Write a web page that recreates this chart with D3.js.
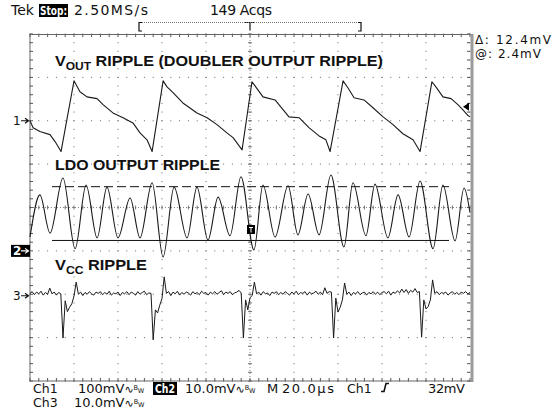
<!DOCTYPE html>
<html>
<head>
<meta charset="utf-8">
<script src="https://cdn.jsdelivr.net/npm/d3@7"></script>
<style>
  body { margin: 0; background: #fff; }
  svg { display: block; }
  text { font-family: "DejaVu Sans", sans-serif; fill: #111; }
  .title { font-family: "Liberation Sans", Arial, sans-serif; font-weight: bold; }
</style>
</head>
<body>
<div id="scope"></div>
<script>
// ---- data (time in µs, values in mV) ----
// Ch1: V_OUT ripple (100mV/div)
const ch1Time = [-100, -98.6, -95.5, -90.9, -88.6, -85.9, -80, -77.3, -74.1, -69.5, -66.8, -62.3, -57.7, -53.2, -50, -46.8, -44.5,
  -39.5, -37.7, -35, -30.5, -24.1, -19.5, -15, -10.5, -7.7, -3.6,
  0.9, 5.9, 11.4, 17.7, 22.3, 26.8, 31.4, 34.5, 36.4,
  42.3, 44.5, 47.3, 51.8, 55.9, 60.5, 65, 69.5, 74.1, 77.3,
  82.7, 84.5, 87.7, 91.4, 94.5, 96.8, 99.1, 100];
const ch1Values = [0, -16, -25, -32, -48, -71, 92, 67, 55, 51, 37, 18, 7, -5, -28, -44, -71,
  92, 78, 65, 41, 18, 7, -9, -28, -39, -67,
  90, 55, 48, 9, 7, -16, -35, -44, -71,
  92, 76, 53, 48, 30, 9, -9, -30, -44, -71,
  90, 78, 55, 51, 37, 25, 12, 9];

// Ch2: LDO output ripple (10mV/div), peaks and troughs
const ch2Time = [-100, -95.5, -90.9, -85, -79.5, -74.5, -69.5, -65, -60, -54.5, -50, -44.5, -39.5, -34.5, -28.6, -24.1, -19.1,
  -14.5, -9.1, -4.1, 1.8, 5.9, 11.4, 17.3, 21.8, 26.4, 31.4, 36.8, 42.7, 46.8, 52.7, 56.8, 62.7, 67.3, 72.3,
  77.3, 83.2, 87.7, 93.2, 97.3, 100];
const ch2Values = [3.2, 12.9, 4.1, 16.8, 0.5, 15.2, 3.0, 14.7, 3.0, 12.2, 3.0, 15.7, -1.4, 14.7, 3.0, 14.7, 2.5,
  12.4, 3.5, 17.1, 0.2, 15.2, 3.2, 15.0, 3.7, 13.1, 3.7, 17.5, 0.9, 15.7, 3.5, 15.4, 3.0, 12.9, 3.2,
  16.1, 0.5, 15.2, 2.3, 14.5, 8.8];

// Ch3: V_CC ripple (10mV/div), one sample per µs from -100µs to +100µs
const ch3Start = -100;
const ch3Values = [
  0.2, 0.6, -0.1, 0.5, 0.1, 0.7, -0.2, 0.4, 0.0, 1.4,
  0.1, 0.5, -0.2, 0.4, 0.1, -10.1, -1.5, -4.0, -3.0, -2.2,
  -0.4, 2.8, 0.0, 0.5, -0.3, 0.4, 0.0, 0.6, 0.1, -0.2,
  0.5, 0.2, 0.6, -0.1, 0.4, 0.0, 0.7, -0.2, 0.3, 0.1,
  0.5, -0.3, 0.4, 0.1, 0.6, -0.1, 0.5, 0.2, -0.2, 0.6,
  0.0, 0.4, 0.7, -0.1, 0.3, 0.2, -10.5, -3.6, -4.3, -2.5,
  -1.0, 4.0, 0.2, 0.6, -0.3, 0.5, 0.1, 0.7, -0.2, 0.4,
  0.0, 0.5, 0.3, -0.2, 0.6, 0.1, 0.4, -0.1, 0.7, 0.2,
  0.4, -0.2, 0.5, 0.1, 0.6, 0.0, 0.4, 0.8, -0.1, 0.5,
  0.2, 0.6, -0.1, 0.3, 0.5, 0.9, 0.3, -10.1, -1.3, -3.6,
  -0.8, -0.3, 2.8, 0.1, 0.5, -0.2, 0.6, 0.1, 0.3, -0.3,
  0.5, 0.2, 0.6, -0.1, 0.4, 0.0, 0.6, 0.2, -0.2, 0.5,
  0.1, 0.7, -0.1, 0.4, 0.2, 0.6, -0.2, 0.5, 0.1, 0.3,
  0.7, 0.0, 0.5, -0.1, 1.5, 0.2, 0.6, 0.5, -10.1, -0.9,
  -4.1, -3.0, -1.3, 2.6, 0.0, 0.5, -0.3, 0.4, 0.1, 0.6,
  -0.1, 0.3, 0.5, -0.2, 0.4, 0.1, 0.6, 0.0, 0.5, -0.1,
  0.4, 0.6, 0.1, 0.7, -0.2, 0.5, 0.2, 0.8, 0.3, 1.2,
  0.4, 1.1, 0.2, 0.9, 0.5, 1.3, 0.4, 0.6, -9.9, -1.3,
  -3.4, -2.8, -1.3, 3.3, 0.2, 0.6, -0.1, 0.4, 0.2, 0.5,
  -0.2, 0.3, 0.6, 0.0, 0.4, -0.1, 0.5, 0.2, 0.6, 0.1,
  0.4];

// channel settings: position (div) and scale (mV/div)
const ch1Pos = 2, ch1Scale = 100;
const ch2Pos = -1, ch2Scale = 10;
const ch3Pos = -2, ch3Scale = 10;
// cursors on ch2
const cursorLow = 2.4, cursorDelta = 12.4;
const trigLevel = 32; // mV on ch1

const W = 552, H = 413;
const svg = d3.select("#scope").append("svg").attr("width", W).attr("height", H);

const x = d3.scaleLinear().domain([-100, 100]).range([30, 470]);
const yDiv = d3.scaleLinear().domain([-4, 4]).range([381, 34]);
const yCh = (pos, scale) => v => yDiv(pos + v / scale);
const y1 = yCh(ch1Pos, ch1Scale), y2 = yCh(ch2Pos, ch2Scale), y3 = yCh(ch3Pos, ch3Scale);

// ---- graticule ----
const grid = svg.append("g");
const minor = d3.range(-25, 26).map(d => d / 5);   // 0.2 div steps horizontally
const minorV = d3.range(-20, 21).map(d => d / 5);  // vertically
const xDiv = d3.scaleLinear().domain([-5, 5]).range([30, 470]);

// dotted major lines
d3.range(-4, 5).forEach(i => {
  minor.forEach(m => grid.append("rect").attr("x", xDiv(m) - 0.5).attr("y", yDiv(i) - 0.5)
    .attr("width", 1).attr("height", 1).attr("fill", "#666"));
});
d3.range(-5, 6).forEach(i => {
  minorV.forEach(m => grid.append("rect").attr("x", xDiv(i) - 0.5).attr("y", yDiv(m) - 0.5)
    .attr("width", 1).attr("height", 1).attr("fill", "#666"));
});
// center cross
grid.append("line").attr("x1", 30).attr("x2", 470).attr("y1", yDiv(0)).attr("y2", yDiv(0))
  .attr("stroke", "#888").attr("stroke-dasharray", "1,2");
grid.append("line").attr("x1", xDiv(0)).attr("x2", xDiv(0)).attr("y1", 34).attr("y2", 381)
  .attr("stroke", "#888").attr("stroke-dasharray", "1,2");
minor.forEach(m => grid.append("line").attr("x1", xDiv(m)).attr("x2", xDiv(m))
  .attr("y1", yDiv(0) - 2).attr("y2", yDiv(0) + 2).attr("stroke", "#777"));
minorV.forEach(m => grid.append("line").attr("y1", yDiv(m)).attr("y2", yDiv(m))
  .attr("x1", xDiv(0) - 2).attr("x2", xDiv(0) + 2).attr("stroke", "#777"));
// border ticks
minor.forEach(m => {
  grid.append("line").attr("x1", xDiv(m)).attr("x2", xDiv(m)).attr("y1", 34).attr("y2", 37).attr("stroke", "#555");
  grid.append("line").attr("x1", xDiv(m)).attr("x2", xDiv(m)).attr("y1", 378).attr("y2", 381).attr("stroke", "#555");
});
minorV.forEach(m => {
  grid.append("line").attr("y1", yDiv(m)).attr("y2", yDiv(m)).attr("x1", 30).attr("x2", 33).attr("stroke", "#555");
  grid.append("line").attr("y1", yDiv(m)).attr("y2", yDiv(m)).attr("x1", 467).attr("x2", 470).attr("stroke", "#555");
});
grid.append("path").attr("d", "M30,381V34.5H471").attr("fill", "none").attr("stroke", "#666");
grid.append("line").attr("x1", 30).attr("x2", 471).attr("y1", 381).attr("y2", 381).attr("stroke", "#666");
grid.append("line").attr("x1", 472).attr("x2", 472).attr("y1", 34).attr("y2", 382)
  .attr("stroke", "#9a9a9a").attr("stroke-width", 3);

// ---- traces ----
const traces = svg.append("g").attr("fill", "none").attr("stroke", "#1a1a1a").attr("stroke-width", 1.1)
  .attr("stroke-linejoin", "round");

const line1 = d3.line().x((d, i) => x(ch1Time[i])).y(d => y1(d));
traces.append("path").attr("d", line1(ch1Values));

const line2 = d3.line().x((d, i) => x(ch2Time[i])).y(d => y2(d)).curve(d3.curveMonotoneX);
traces.append("path").attr("d", line2(ch2Values));

const line3 = d3.line().x((d, i) => x(ch3Start + i)).y(d => y3(d));
traces.append("path").attr("d", line3(ch3Values)).attr("stroke-width", 1);

// cursors
svg.append("line").attr("x1", 52).attr("x2", 449).attr("y1", y2(cursorLow + cursorDelta)).attr("y2", y2(cursorLow + cursorDelta))
  .attr("stroke", "#111").attr("stroke-dasharray", "9,4");
svg.append("line").attr("x1", 52).attr("x2", 449).attr("y1", y2(cursorLow)).attr("y2", y2(cursorLow))
  .attr("stroke", "#111");

// trigger marker in the middle and trigger level arrow on the right
svg.append("rect").attr("x", 247).attr("y", 225).attr("width", 8).attr("height", 9).attr("fill", "#000");
svg.append("path").attr("d", "M249,227.5h4M251,227.5v5").attr("stroke", "#fff").attr("stroke-width", 1);
const ty = y1(trigLevel);
svg.append("path").attr("d", `M463,${ty}L469,${ty - 4}L469,${ty + 4}Z`).attr("fill", "#000");

// ---- channel ground markers ----
function marker(label, yy, inverse) {
  const g = svg.append("g");
  if (inverse) g.append("rect").attr("x", 11).attr("y", yy - 6).attr("width", 19).attr("height", 12).attr("fill", "#000");
  const c = inverse ? "#fff" : "#111";
  g.append("text").attr("x", 13).attr("y", yy + 4.5).style("font-size", "12px").style("fill", c)
    .style("font-weight", inverse ? "bold" : "normal").text(label);
  g.append("path").attr("d", `M21,${yy}H28M25,${yy - 2.5}L28.5,${yy}L25,${yy + 2.5}`)
    .attr("fill", "none").attr("stroke", c).attr("stroke-width", 1.2);
}
marker("1", y1(0), false);
marker("2", y2(0), true);
marker("3", y3(0) + 1.5, false);

// ---- titles on the traces ----
function title(yy, sub, rest, len) {
  const t = svg.append("text").attr("class", "title").attr("x", 55).attr("y", yy)
    .style("font-size", "15.5px").attr("textLength", len).attr("lengthAdjust", "spacingAndGlyphs");
  t.append("tspan").text("V");
  t.append("tspan").attr("dy", 4).style("font-size", "11.5px").text(sub);
  t.append("tspan").attr("dy", -4).text(rest);
}
title(66, "OUT", " RIPPLE (DOUBLER OUTPUT RIPPLE)", 328);
svg.append("text").attr("class", "title").attr("x", 55).attr("y", 170).style("font-size", "15.5px")
  .attr("textLength", 165).attr("lengthAdjust", "spacingAndGlyphs").text("LDO OUTPUT RIPPLE");
title(270, "CC", " RIPPLE", 92);

// ---- header ----
const txt = (xx, yy, s, len, opts = {}) => {
  const t = svg.append("text").attr("x", xx).attr("y", yy).style("font-size", opts.size || "13.5px").text(s);
  if (len) t.attr("textLength", len).attr("lengthAdjust", opts.squash ? "spacingAndGlyphs" : "spacing");
  if (opts.fill) t.style("fill", opts.fill);
  if (opts.bold) t.style("font-weight", "bold");
  return t;
};
txt(11, 15, "Tek", null, { size: "14px" });
svg.append("rect").attr("x", 39).attr("y", 4).attr("width", 29).attr("height", 13).attr("fill", "#000");
txt(40, 15, "Stop:", 27, { fill: "#fff", bold: true, size: "11.5px", squash: true });
txt(74, 15, "2.50MS/s", 74, { size: "14px" });
txt(210, 15, "149 Acqs", 62, { size: "14px" });

// record bar
svg.append("path").attr("d", "M142,22.5h-3v8.5h3M358,22.5h3v8.5h-3M245,22.5h10M250,22.5v8")
  .attr("fill", "none").attr("stroke", "#111").attr("stroke-width", 1.2);
svg.append("line").attr("x1", 142).attr("x2", 358).attr("y1", 22.5).attr("y2", 22.5)
  .attr("stroke", "#777").attr("stroke-dasharray", "1,1");

// cursor readout
txt(475, 44, "\u0394: 12.4mV", 76, { size: "12px" });
txt(475, 58, "@: 2.4mV", 66, { size: "12px" });

// ---- bottom status line ----
function bw(t) {
  t.append("tspan").style("font-size", "11px").text("\u223f");
  t.append("tspan").attr("dy", -3).style("font-size", "6.5px").text("B");
  t.append("tspan").attr("dy", 3).style("font-size", "6.5px").text("W");
}
txt(33, 393, "Ch1", null, { size: "12.5px" });
bw(txt(78, 393, "100mV", null, { size: "13px" }));
svg.append("rect").attr("x", 153).attr("y", 382).attr("width", 24).attr("height", 13).attr("fill", "#000");
txt(155, 393, "Ch2", 20, { fill: "#fff", bold: true, size: "12.5px", squash: true });
bw(txt(185, 393, "10.0mV", null, { size: "13px" }));
txt(267, 393, "M", null, { size: "13px" });
txt(282, 393, "20.0\u00b5s", 52, { size: "13px" });
txt(347, 393, "Ch1", null, { size: "12.5px" });
svg.append("path").attr("d", "M381,391.5h3l2-8h3").attr("fill", "none").attr("stroke", "#111").attr("stroke-width", 1.6);
txt(428, 393, "32mV", 37, { size: "13px" });
txt(33, 407, "Ch3", null, { size: "12.5px" });
bw(txt(74, 407, "10.0mV", null, { size: "13px" }));
</script>
</body>
</html>
